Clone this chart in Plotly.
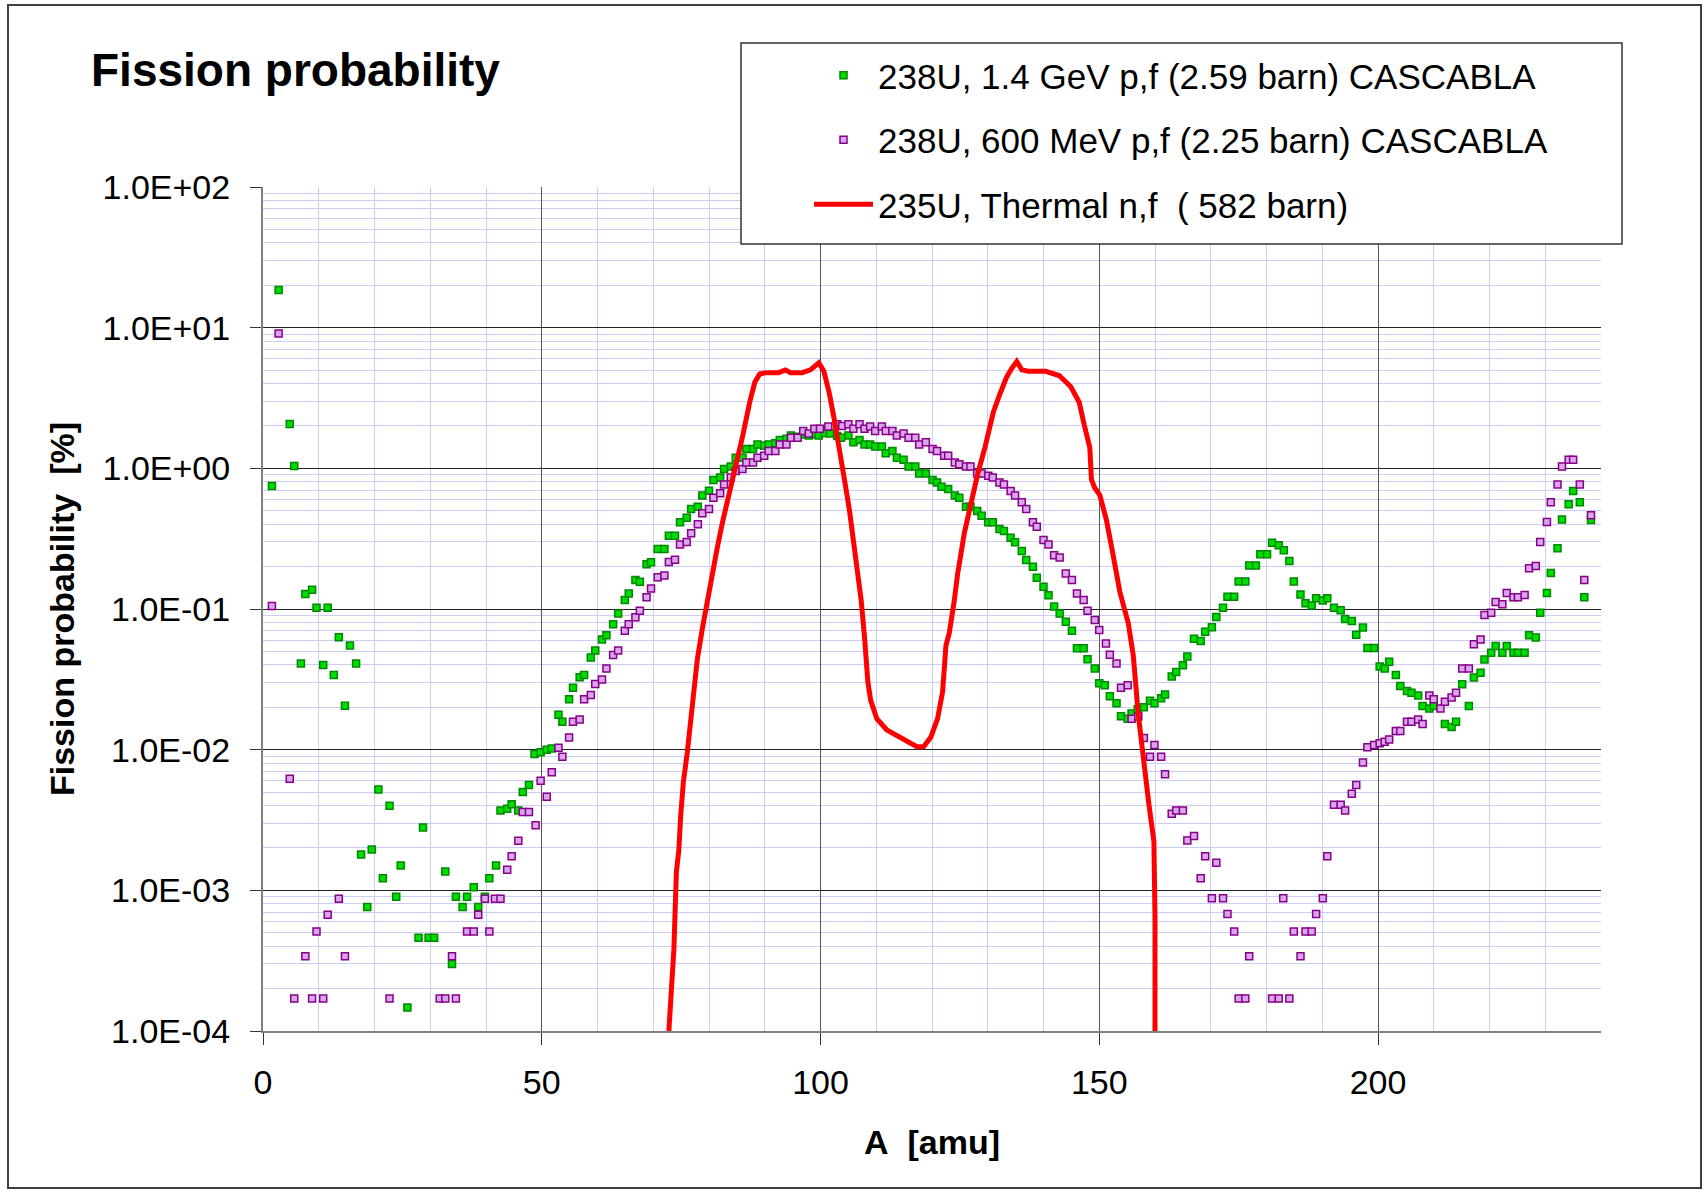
import plotly.graph_objects as go

# ---------------- data ----------------
green_A = [1.6, 2.8, 4.8, 5.6, 6.8, 7.6, 8.8, 9.6, 10.8, 11.6,
           12.7, 13.6, 14.7, 15.6, 16.7, 17.6, 18.7, 19.5, 20.7, 21.5,
           22.7, 23.9, 24.7, 25.9, 27.9, 28.7, 29.7, 30.7, 32.7, 33.9,
           34.6, 35.8, 36.6, 37.8, 38.6, 39.8, 40.6, 41.8, 42.6, 43.8,
           44.6, 45.8, 46.6, 47.7, 48.7, 49.8, 50.9, 51.8, 53.0, 53.7,
           54.9, 55.6, 56.8, 57.6, 58.8, 59.6, 60.8, 61.6, 62.8, 63.7,
           64.9, 65.6, 66.8, 67.6, 68.8, 69.6, 70.8, 72.0, 72.8, 73.9,
           74.8, 76.0, 76.8, 78.0, 78.8, 80.0, 80.8, 82.0, 82.7, 83.9,
           84.8, 86.0, 86.7, 87.9, 88.7, 89.9, 90.7, 91.9, 92.7, 93.9,
           94.7, 95.9, 96.9, 97.9, 98.9, 99.7, 100.7, 101.7, 103.0, 103.7,
           105.0, 105.9, 107.0, 107.9, 108.9, 109.8, 111.0, 111.7, 112.9, 113.7,
           114.9, 115.8, 117.0, 117.7, 118.9, 120.1, 120.9, 121.7, 122.9, 124.1,
           124.9, 126.1, 126.9, 128.1, 128.9, 130.1, 130.9, 132.1, 132.9, 134.1,
           134.9, 136.1, 136.9, 138.1, 138.8, 140.0, 140.9, 141.9, 142.9, 144.0,
           145.1, 146.0, 147.2, 147.9, 149.2, 150.0, 151.0, 151.9, 153.1, 153.9,
           155.1, 155.8, 156.9, 158.0, 159.1, 159.9, 161.1, 161.8, 163.0, 163.8,
           165.0, 165.8, 167.0, 168.2, 169.0, 170.2, 171.0, 172.2, 173.0, 174.2,
           175.0, 176.2, 176.9, 178.1, 178.9, 180.1, 181.0, 182.2, 183.1, 184.1,
           184.9, 186.1, 187.0, 188.1, 188.9, 190.1, 190.9, 192.1, 193.3, 194.1,
           195.3, 196.1, 197.3, 198.1, 199.3, 200.3, 201.2, 202.0, 203.2, 204.0,
           205.2, 206.0, 207.2, 208.0, 209.2, 210.0, 212.0, 213.2, 214.0, 215.1,
           216.3, 217.2, 218.4, 219.1, 220.3, 221.1, 222.3, 223.1, 224.3, 225.1,
           226.3, 227.1, 228.3, 229.1, 230.3, 231.0, 232.2, 233.0, 234.2, 235.0,
           236.2, 237.0, 238.2]
green_P = [0.75, 18.5, 2.07, 1.04, 0.041, 0.128, 0.137, 0.102, 0.040, 0.102,
           0.034, 0.063, 0.0205, 0.055, 0.041, 0.0018, 0.00076, 0.00195, 0.0052, 0.00122,
           0.0040, 0.00090, 0.0015, 0.000147, 0.00046, 0.0028, 0.00046, 0.00046, 0.00136, 0.00030,
           0.00090, 0.00076, 0.00090, 0.00105, 0.00076, 0.00090, 0.00122, 0.0015, 0.0037, 0.0038,
           0.0041, 0.0037, 0.0050, 0.0056, 0.0093, 0.0096, 0.0100, 0.0102, 0.0177, 0.0158,
           0.0228, 0.0275, 0.0327, 0.034, 0.0453, 0.0506, 0.0608, 0.065, 0.078, 0.093,
           0.116, 0.129, 0.161, 0.156, 0.208, 0.215, 0.267, 0.267, 0.332, 0.332,
           0.413, 0.446, 0.514, 0.533, 0.640, 0.693, 0.826, 0.859, 0.99, 1.03,
           1.19, 1.19, 1.37, 1.37, 1.48, 1.45, 1.48, 1.51, 1.59, 1.62,
           1.71, 1.68, 1.74, 1.71, 1.74, 1.71, 1.78, 1.77, 1.70, 1.65,
           1.71, 1.53, 1.59, 1.48, 1.48, 1.43, 1.43, 1.28, 1.33, 1.19,
           1.15, 1.03, 1.03, 0.92, 0.92, 0.826, 0.794, 0.741, 0.713, 0.640,
           0.618, 0.533, 0.533, 0.498, 0.461, 0.413, 0.413, 0.371, 0.359, 0.321,
           0.298, 0.258, 0.223, 0.200, 0.167, 0.144, 0.125, 0.104, 0.093, 0.081,
           0.070, 0.0525, 0.0525, 0.0439, 0.0378, 0.0296, 0.0287, 0.024, 0.0214, 0.0173,
           0.0166, 0.0181, 0.0194, 0.020, 0.0223, 0.0214, 0.0232, 0.0247, 0.0331, 0.0356,
           0.0398, 0.0459, 0.0615, 0.0592, 0.0689, 0.0741, 0.0879, 0.102, 0.122, 0.122,
           0.157, 0.157, 0.204, 0.204, 0.245, 0.245, 0.296, 0.284, 0.262, 0.219,
           0.157, 0.127, 0.110, 0.106, 0.119, 0.115, 0.119, 0.102, 0.098, 0.085,
           0.082, 0.0655, 0.0738, 0.0528, 0.0528, 0.039, 0.0378, 0.0422, 0.0339, 0.0283,
           0.0261, 0.0254, 0.0243, 0.0204, 0.0196, 0.0204, 0.0152, 0.0145, 0.0158, 0.0292,
           0.0204, 0.0326, 0.0352, 0.0438, 0.0489, 0.0545, 0.0489, 0.0545, 0.0489, 0.0489,
           0.0489, 0.0652, 0.0628, 0.094, 0.130, 0.180, 0.270, 0.432, 0.555, 0.690,
           0.575, 0.121, 0.429]

purple_A = [1.6, 2.8, 4.8, 5.6, 7.6, 8.8, 9.6, 10.8, 11.6, 13.6,
            14.7, 22.7, 31.7, 32.7, 33.9, 34.6, 36.6, 37.8, 38.6, 39.8,
            40.6, 41.6, 42.6, 43.8, 44.6, 45.8, 46.6, 47.7, 48.9, 49.8,
            50.9, 51.8, 53.0, 53.7, 54.9, 55.6, 56.8, 57.6, 58.8, 59.6,
            60.8, 61.6, 62.8, 63.7, 64.9, 65.6, 66.8, 67.6, 68.8, 69.6,
            70.8, 72.0, 72.8, 73.9, 74.8, 76.0, 76.8, 78.0, 78.8, 80.0,
            80.8, 82.0, 82.7, 83.9, 84.8, 86.0, 86.7, 87.9, 88.7, 89.9,
            90.7, 91.9, 92.7, 93.9, 94.7, 95.9, 96.9, 97.9, 98.9, 99.9,
            101.4, 103.0, 103.9, 105.0, 105.9, 107.0, 107.9, 108.9, 109.8, 111.0,
            111.7, 112.9, 113.7, 114.9, 115.8, 117.0, 117.7, 118.9, 120.1, 120.9,
            122.2, 122.9, 124.1, 124.9, 126.1, 126.9, 128.1, 128.9, 130.1, 130.9,
            132.1, 132.9, 134.1, 134.9, 136.1, 136.9, 138.1, 138.8, 140.0, 140.9,
            141.9, 142.9, 144.0, 145.1, 146.0, 147.2, 147.9, 149.2, 150.0, 151.2,
            151.9, 153.1, 153.9, 155.1, 155.8, 157.0, 158.0, 159.1, 159.9, 161.1,
            161.8, 163.0, 163.8, 165.0, 165.8, 167.0, 168.2, 169.0, 170.2, 171.0,
            172.2, 173.0, 174.2, 175.0, 176.2, 176.9, 181.0, 182.2, 183.0, 184.1,
            184.9, 186.1, 187.0, 188.1, 188.9, 190.1, 190.9, 192.1, 193.3, 194.1,
            195.3, 196.1, 197.3, 198.1, 199.3, 200.3, 201.2, 202.0, 203.2, 204.0,
            205.2, 206.0, 207.2, 208.0, 209.2, 210.0, 211.2, 212.0, 213.2, 214.0,
            215.1, 216.3, 217.2, 218.4, 219.1, 220.3, 221.1, 222.3, 223.1, 224.3,
            225.1, 226.3, 227.1, 228.3, 229.1, 230.3, 231.0, 232.2, 233.0, 234.2,
            235.0, 236.2, 237.0, 238.2]
purple_P = [0.105, 9.1, 0.0062, 0.00017, 0.00034, 0.00017, 0.00051, 0.00017, 0.00067, 0.00087,
            0.00034, 0.00017, 0.00017, 0.00017, 0.00034, 0.00017, 0.00051, 0.00051, 0.00067, 0.00087,
            0.00051, 0.00087, 0.00087, 0.0014, 0.00175, 0.00225, 0.0036, 0.0036, 0.0029, 0.0060,
            0.00463, 0.0069, 0.0103, 0.0089, 0.0122, 0.0158, 0.0164, 0.0228, 0.0245, 0.0293,
            0.0316, 0.0378, 0.0471, 0.0506, 0.070, 0.078, 0.0873, 0.0973, 0.121, 0.140,
            0.168, 0.173, 0.216, 0.224, 0.288, 0.299, 0.345, 0.40, 0.479, 0.514,
            0.618, 0.664, 0.769, 0.859, 0.957, 0.989, 1.10, 1.10, 1.19, 1.23,
            1.33, 1.33, 1.48, 1.48, 1.65, 1.65, 1.84, 1.77, 1.91, 1.91,
            1.98, 2.06, 2.0, 2.06, 1.91, 2.06, 1.91, 1.98, 1.84, 1.98,
            1.84, 1.84, 1.71, 1.77, 1.65, 1.65, 1.48, 1.53, 1.37, 1.33,
            1.23, 1.23, 1.10, 1.07, 1.03, 1.03, 0.92, 0.92, 0.887, 0.859,
            0.794, 0.769, 0.69, 0.64, 0.573, 0.514, 0.413, 0.385, 0.31, 0.288,
            0.241, 0.232, 0.179, 0.161, 0.129, 0.116, 0.097, 0.0836, 0.0708, 0.0569,
            0.0472, 0.041, 0.0276, 0.0287, 0.0166, 0.0172, 0.0121, 0.0089, 0.0108, 0.0089,
            0.0067, 0.0035, 0.0037, 0.0037, 0.00226, 0.00243, 0.00122, 0.00175, 0.00088, 0.00157,
            0.00088, 0.00068, 0.00051, 0.00017, 0.00017, 0.00034, 0.00017, 0.00017, 0.00088, 0.00017,
            0.00051, 0.00034, 0.00051, 0.00051, 0.00068, 0.00088, 0.00175, 0.00406, 0.00406, 0.0037,
            0.00485, 0.0056, 0.0081, 0.0104, 0.0108, 0.0111, 0.0114, 0.0118, 0.0136, 0.0136,
            0.0158, 0.0158, 0.0164, 0.0152, 0.0243, 0.0228, 0.0196, 0.0219, 0.0235, 0.0254,
            0.0378, 0.0378, 0.0562, 0.0607, 0.0906, 0.094, 0.112, 0.108, 0.130, 0.121,
            0.121, 0.126, 0.195, 0.202, 0.299, 0.415, 0.575, 0.769, 1.03, 1.15,
            1.15, 0.769, 0.161, 0.463]

thermal_A = [72.8, 73.4, 73.7, 74.15, 74.6, 74.9, 75.4, 76.1, 76.7, 77.2,
             77.9, 78.8, 79.7, 80.6, 81.5, 82.5, 83.7, 84.9, 86.1, 87.3,
             88.2, 89.1, 90.3, 92.5, 93.7, 94.6, 96.7, 98.2, 99.7, 100.6,
             101.6, 102.5, 103.4, 104.3, 105.2, 105.8, 106.4, 107.3, 107.9, 108.5,
             109.0, 110.1, 111.9, 114.3, 116.1, 117.3, 118.5, 119.8, 121.0, 121.9,
             122.5, 123.1, 124.0, 124.6, 125.8, 127.0, 128.2, 129.5, 131.0, 132.2,
             133.4, 134.3, 135.2, 136.1, 137.3, 140.4, 142.8, 144.9, 146.4, 147.3,
             148.3, 148.6, 149.2, 150.1, 151.3, 152.5, 153.7, 155.2, 156.1, 157.0,
             157.9, 158.9, 159.8, 160.0, 160.0]
thermal_P = [1.0e-4, 2.3e-4, 3.8e-4, 1.35e-3, 1.95e-3, 3.3e-3, 5.9e-3, 9.5e-3, 0.0155, 0.024,
             0.0437, 0.0724, 0.115, 0.166, 0.275, 0.427, 0.676, 1.12, 1.74, 2.95,
             4.07, 4.68, 4.79, 4.79, 5.01, 4.79, 4.79, 5.01, 5.62, 4.90,
             3.39, 2.19, 1.41, 0.832, 0.501, 0.324, 0.204, 0.115, 0.063, 0.0302,
             0.0224, 0.0166, 0.0138, 0.0123, 0.0112, 0.0105, 0.0105, 0.0123, 0.0166, 0.0257,
             0.055, 0.0676, 0.115, 0.178, 0.347, 0.575, 0.912, 1.41, 2.51, 3.39,
             4.47, 5.13, 5.75, 5.01, 4.90, 4.90, 4.57, 3.80, 2.95, 2.04,
             1.41, 0.832, 0.724, 0.646, 0.427, 0.240, 0.132, 0.0794, 0.0468, 0.0178,
             0.0085, 0.0041, 0.00224, 6.5e-4, 1.0e-4]

assert len(green_A) == len(green_P)
assert len(purple_A) == len(purple_P)
assert len(thermal_A) == len(thermal_P)

names = ["238U, 1.4 GeV p,f (2.59 barn) CASCABLA",
         "238U, 600 MeV p,f (2.25 barn) CASCABLA",
         "235U, Thermal n,f\u00a0 ( 582 barn)"]

y_tickvals = [1e-4, 1e-3, 1e-2, 1e-1, 1e0, 1e1, 1e2]
y_ticktext = ["1.0E-04", "1.0E-03", "1.0E-02", "1.0E-01", "1.0E+00", "1.0E+01", "1.0E+02"]
x_tickvals = [0, 50, 100, 150, 200]

# ---------------- figure ----------------
W, H = 1706, 1192
L, R, T, B = 263, 105, 187, 161
FONT = "Liberation Sans, Arial, sans-serif"

fig = go.Figure()
fig.add_trace(go.Scatter(
    x=green_A, y=green_P, mode="markers", name=names[0], legendgroup="g1",
    marker=dict(symbol="square", size=7, color="#00dd00",
                line=dict(color="#008800", width=1.5))))
fig.add_trace(go.Scatter(
    x=purple_A, y=purple_P, mode="markers", name=names[1], legendgroup="g2",
    marker=dict(symbol="square", size=7, color="#d9a6ee",
                line=dict(color="#880088", width=1.5))))
fig.add_trace(go.Scatter(
    x=thermal_A, y=thermal_P, mode="lines", name=names[2], legendgroup="g3",
    line=dict(color="#ff0000", width=5)))

minor_y = [m * 10.0 ** e for e in range(-4, 2) for m in range(2, 10)]

fig.update_xaxes(
    range=[0, 240], tickmode="array", tickvals=x_tickvals,
    showgrid=True, gridcolor="#555555", gridwidth=1,
    minor=dict(dtick=10, tick0=0, showgrid=True, gridcolor="#ccccf5", gridwidth=1, ticks=""),
    ticks="outside", ticklen=12, tickcolor="#333333", tickwidth=1,
    showline=True, linecolor="#808080", linewidth=2, zeroline=False,
    ticklabelstandoff=8,
    tickfont=dict(family=FONT, size=34, color="black"),
)
fig.update_yaxes(
    type="log", range=[-4, 2], tickmode="array", tickvals=y_tickvals, ticktext=y_ticktext,
    showgrid=True, gridcolor="#222222", gridwidth=1,
    minor=dict(tickmode="array", tickvals=minor_y, showgrid=True, gridcolor="#ccccf5",
               gridwidth=1, ticks=""),
    ticks="outside", ticklen=11, tickcolor="#333333", tickwidth=1,
    showline=True, linecolor="#808080", linewidth=2, zeroline=False,
    ticklabelstandoff=13,
    tickfont=dict(family=FONT, size=34, color="black"),
)

def px_x(p):
    return (p - L) / (W - L - R)

def px_y(p):
    return (H - B - p) / (H - T - B)

shapes = [
    # outer chart frame
    dict(type="rect", xref="paper", yref="paper",
         x0=px_x(8), x1=px_x(1701), y0=px_y(5), y1=px_y(1188),
         line=dict(color="#404040", width=2), fillcolor="rgba(0,0,0,0)", layer="below"),
    # legend frame
    dict(type="rect", xref="paper", yref="paper",
         x0=px_x(741), x1=px_x(1622), y0=px_y(43), y1=px_y(244),
         line=dict(color="#333333", width=1.5), fillcolor="white", layer="above"),
]

fig.update_layout(
    width=W, height=H,
    margin=dict(l=L, r=R, t=T, b=B, pad=0, autoexpand=False),
    paper_bgcolor="white", plot_bgcolor="white",
    font=dict(family=FONT, size=34, color="black"),
    title=dict(text="<b>Fission probability</b>", xref="container", yref="container",
               x=91 / W, xanchor="left", y=1 - 70 / H, yanchor="middle",
               font=dict(family=FONT, size=46, color="black")),
    showlegend=True,
    legend=dict(xref="container", yref="container", x=809 / W, y=1 - 46 / H,
                xanchor="left", yanchor="top", bgcolor="rgba(0,0,0,0)", borderwidth=0,
                font=dict(family=FONT, size=35, color="black"),
                traceorder="grouped", tracegroupgap=16, itemwidth=59),
    shapes=shapes,
    annotations=[
        dict(text="<b>A\u00a0 [amu]</b>", xref="paper", yref="paper", x=0.5, y=0,
             xanchor="center", yanchor="middle", yshift=-111, showarrow=False,
             font=dict(family=FONT, size=34, color="black")),
        dict(text="<b>Fission probability\u00a0 [%]</b>", xref="paper", yref="paper",
             x=0, y=0.5, xanchor="center", yanchor="middle", xshift=-(L - 62),
             textangle=-90, showarrow=False,
             font=dict(family=FONT, size=34, color="black")),
    ],
)

fig.write_html("out.html")
